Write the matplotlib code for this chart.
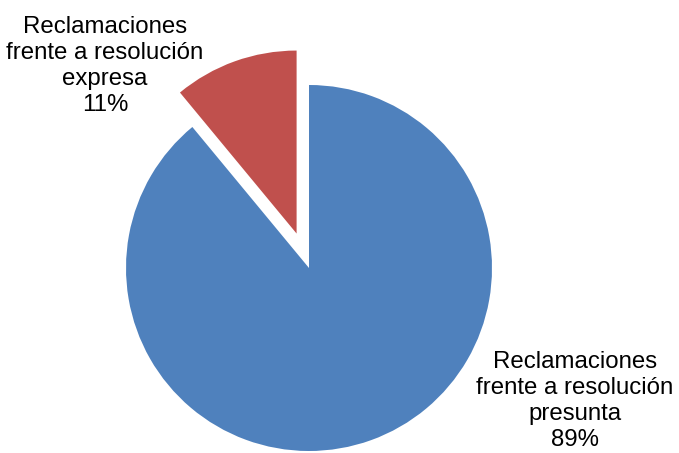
import matplotlib.pyplot as plt

plt.rcParams['font.family'] = ['Liberation Sans', 'DejaVu Sans']

labels = ['Reclamaciones\nfrente a resolución\nexpresa', 'Reclamaciones\nfrente a resolución\npresunta']
values = [11, 89]
colors = ['#C0504D', '#4F81BD']

W, H = 679, 453
fig = plt.figure(figsize=(W / 100, H / 100), dpi=100)

# pie centre and radius in pixels
cx, cy, r = 309, 268, 183
ax = fig.add_axes([(cx - r) / W, (H - cy - r) / H, 2 * r / W, 2 * r / H])
ax.pie(values, colors=colors, startangle=90, counterclock=True,
       explode=[0.2, 0], wedgeprops=dict(linewidth=0))
ax.set_xlim(-1, 1)
ax.set_ylim(-1, 1)
ax.set_aspect('equal')
ax.axis('off')

total = sum(values)
label_pos = [(105, 66), (575, 401)]
for lab, v, (px, py) in zip(labels, values, label_pos):
    fig.text(px / W, 1 - py / H, f'{lab}\n{round(100 * v / total)}%',
             ha='center', va='center', fontsize=17.3, linespacing=1.22,
             color='black')

fig.savefig('out.png', dpi=100, facecolor='white')
